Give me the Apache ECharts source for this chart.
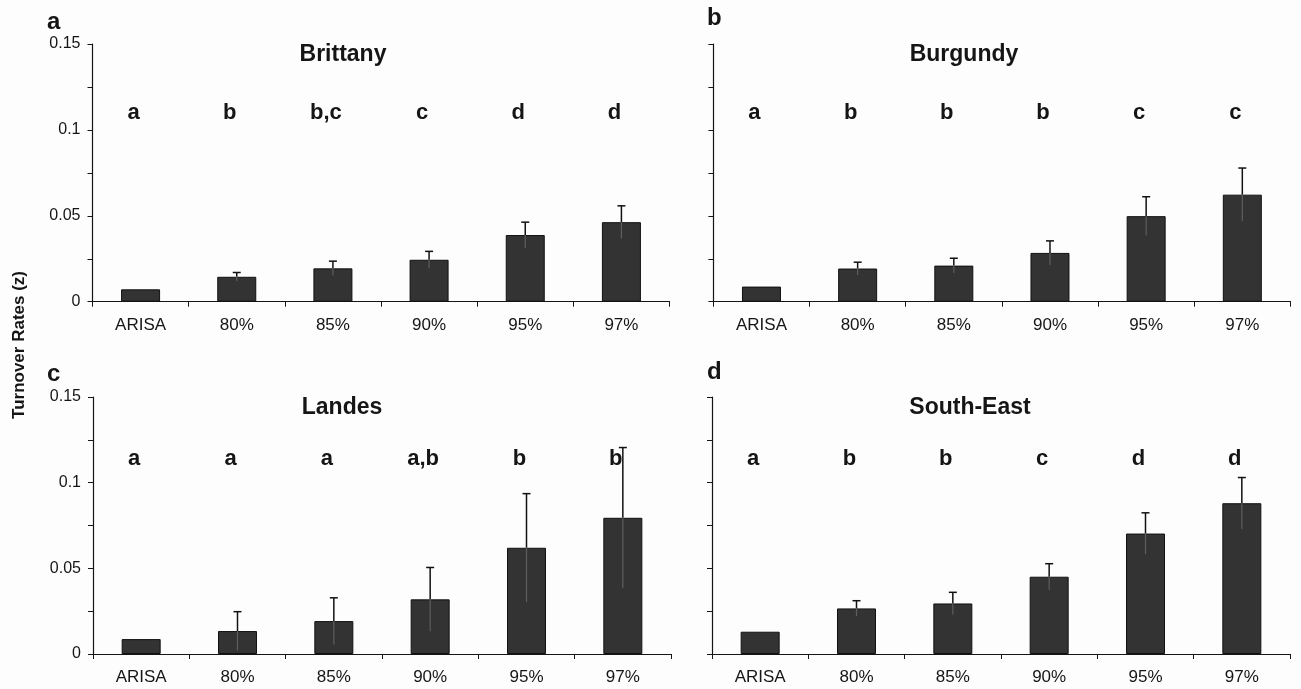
<!DOCTYPE html>
<html>
<head>
<meta charset="utf-8">
<script src="https://cdn.jsdelivr.net/npm/echarts@6/dist/echarts.min.js"></script>
<style>
html,body{margin:0;padding:0;background:#fdfdfd;}
#chart{width:1301px;height:689px;}
</style>
</head>
<body>
<div id="chart"></div>
<script>
// ---- data ----
const categories = ['ARISA', '80%', '85%', '90%', '95%', '97%'];
const yTicks = [0, 0.05, 0.1, 0.15];
const panelLetters = ['a', 'b', 'c', 'd'];
const regions = ['Brittany', 'Burgundy', 'Landes', 'South-East'];

const brittanyMean = [0.0072, 0.0145, 0.0194, 0.0244, 0.0388, 0.0463];
const brittanyErr  = [0, 0.0025, 0.0042, 0.0049, 0.0075, 0.0095];
const brittanyGroups = ['a', 'b', 'b,c', 'c', 'd', 'd'];

const burgundyMean = [0.0088, 0.0193, 0.0210, 0.0284, 0.0498, 0.0623];
const burgundyErr  = [0, 0.0037, 0.0043, 0.0070, 0.0113, 0.0155];
const burgundyGroups = ['a', 'b', 'b', 'b', 'c', 'c'];

const landesMean = [0.0087, 0.0134, 0.0192, 0.0319, 0.0620, 0.0795];
const landesErr  = [0, 0.0113, 0.0136, 0.0186, 0.0316, 0.0410];
const landesGroups = ['a', 'a', 'a', 'a,b', 'b', 'b'];

const southEastMean = [0.0130, 0.0266, 0.0295, 0.0451, 0.0703, 0.0880];
const southEastErr  = [0, 0.0045, 0.0065, 0.0076, 0.0121, 0.0150];
const southEastGroups = ['a', 'b', 'b', 'c', 'd', 'd'];

const yAxisTitle = 'Turnover Rates (z)';
const groupLevelTop = 0.110;
const groupLevelBottom = 0.114;

// ---- layout ----
const FONT = '"Liberation Sans", Arial, sans-serif';
const INK = '#151515';
const panels = [
  {mean: brittanyMean, err: brittanyErr, groups: brittanyGroups, level: groupLevelTop,
   grid: {left: 92.5, top: 44, width: 577, height: 257.7}, labels: true,
   title: [343, 55], letter: [47, 22]},
  {mean: burgundyMean, err: burgundyErr, groups: burgundyGroups, level: groupLevelTop,
   grid: {left: 713.4, top: 44, width: 577, height: 257.7}, labels: false,
   title: [964, 55], letter: [707, 18]},
  {mean: landesMean, err: landesErr, groups: landesGroups, level: groupLevelBottom,
   grid: {left: 93, top: 397, width: 578, height: 257}, labels: true,
   title: [342, 408], letter: [47, 374]},
  {mean: southEastMean, err: southEastErr, groups: southEastGroups, level: groupLevelBottom,
   grid: {left: 712, top: 397, width: 578, height: 257}, labels: false,
   title: [970, 408], letter: [707, 372]}
];

function fmtY(v) {
  const r = Math.round(v * 1000) / 1000;
  for (const t of yTicks) if (Math.abs(t - r) < 1e-9) return String(t);
  return '';
}

const grids = [], xAxes = [], yAxes = [], series = [], graphics = [];

panels.forEach((p, k) => {
  grids.push(p.grid);
  xAxes.push({
    type: 'category', gridIndex: k, data: categories,
    axisLine: {lineStyle: {color: INK, width: 1.2}},
    axisTick: {show: true, length: 5, lineStyle: {color: INK}},
    axisLabel: {color: INK, fontSize: 17, fontFamily: FONT, margin: 15, interval: 0}
  });
  yAxes.push({
    type: 'value', gridIndex: k, min: 0, max: 0.15, interval: 0.025,
    axisLine: {show: true, lineStyle: {color: INK, width: 1.2}},
    axisTick: {show: true, length: 5, lineStyle: {color: INK}},
    splitLine: {show: false},
    axisLabel: {show: p.labels, color: INK, fontSize: 16, fontFamily: FONT, margin: 12,
                formatter: fmtY, showMinLabel: true, showMaxLabel: true}
  });
  series.push({
    type: 'bar', xAxisIndex: k, yAxisIndex: k, data: p.mean, barWidth: 39,
    itemStyle: {color: '#333333', borderColor: '#111111', borderWidth: 1},
    silent: true, animation: false
  });
  series.push({
    type: 'custom', xAxisIndex: k, yAxisIndex: k, animation: false, silent: true, z: 5,
    data: p.mean.map((v, i) => [i, v, p.err[i]]),
    encode: {x: 0, y: 1},
    renderItem: function (params, api) {
      const i = api.value(0), v = api.value(1), e = api.value(2);
      if (!e) return null;
      const top = api.coord([i, v + e]);
      const mid = api.coord([i, v]);
      const bot = api.coord([i, v - e]);
      return {type: 'group', children: [
        {type: 'line', shape: {x1: top[0], y1: top[1], x2: mid[0], y2: mid[1]},
         style: {stroke: '#111', lineWidth: 1.5}},
        {type: 'line', shape: {x1: mid[0], y1: mid[1], x2: bot[0], y2: bot[1]},
         style: {stroke: '#5e5e5e', lineWidth: 1.2}},
        {type: 'line', shape: {x1: top[0] - 4, y1: top[1], x2: top[0] + 4, y2: top[1]},
         style: {stroke: '#111', lineWidth: 1.5}}
      ]};
    }
  });
  series.push({
    type: 'custom', xAxisIndex: k, yAxisIndex: k, animation: false, silent: true, z: 6,
    data: p.groups.map((g, i) => [i, p.level]),
    encode: {x: 0, y: 1},
    renderItem: function (params, api) {
      const pt = api.coord([api.value(0), api.value(1)]);
      return {type: 'text', x: pt[0] - 7, y: pt[1],
        style: {text: p.groups[params.dataIndex], fill: INK,
                font: 'bold 22px ' + FONT, align: 'center', verticalAlign: 'middle'}};
    }
  });
  graphics.push({type: 'text', x: p.title[0], y: p.title[1],
    style: {text: regions[k], fill: INK, font: 'bold 23px ' + FONT,
            align: 'center', verticalAlign: 'middle'}});
  graphics.push({type: 'text', x: p.letter[0], y: p.letter[1],
    style: {text: panelLetters[k], fill: INK, font: 'bold 24px ' + FONT,
            align: 'left', verticalAlign: 'middle'}});
});

graphics.push({type: 'text', x: 19, y: 345, rotation: Math.PI / 2,
  style: {text: yAxisTitle, fill: INK, font: 'bold 17px ' + FONT,
          align: 'center', verticalAlign: 'middle'}});

const chart = echarts.init(document.getElementById('chart'), null, {renderer: 'canvas'});
chart.setOption({
  backgroundColor: '#fdfdfd',
  animation: false,
  grid: grids, xAxis: xAxes, yAxis: yAxes, series: series, graphic: graphics
});
</script>
</body>
</html>
